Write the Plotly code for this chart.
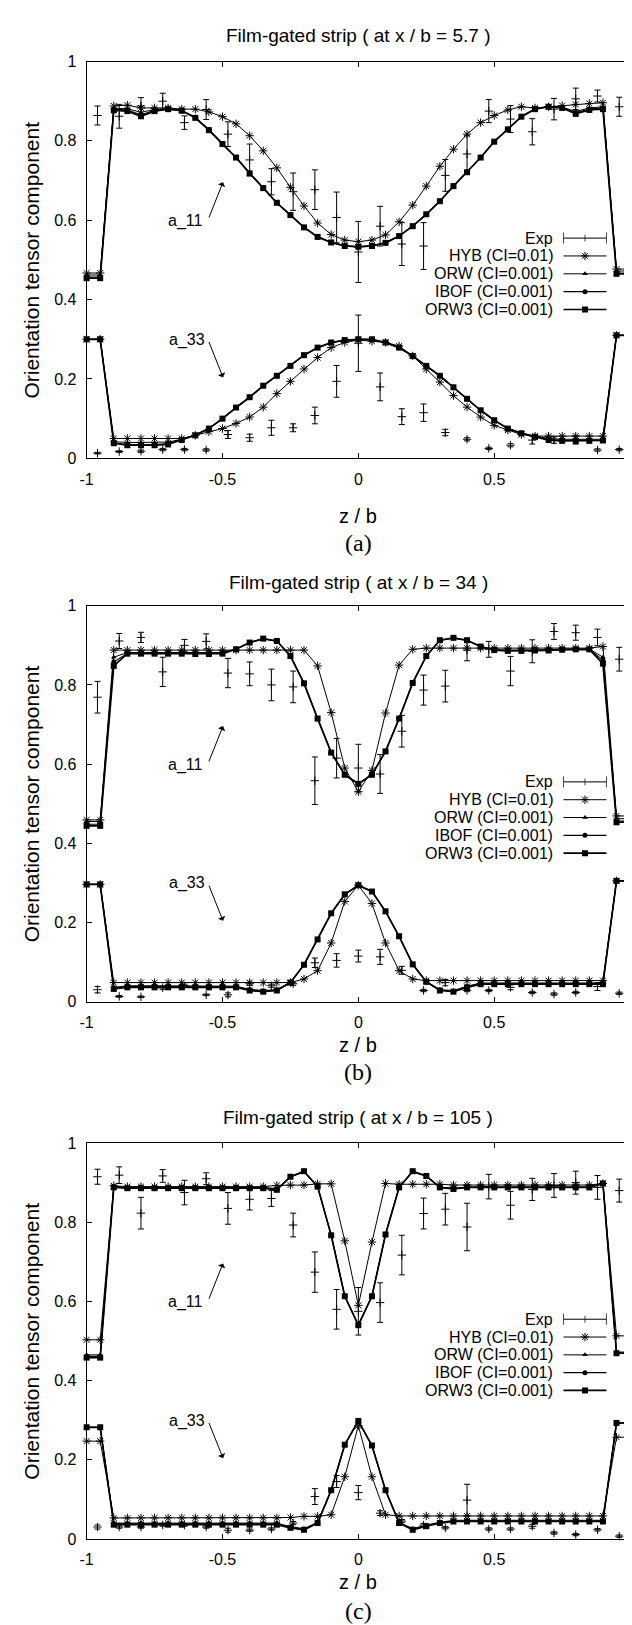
import plotly.graph_objects as go

# ---------------- data ----------------
Z_SIM = [-1.0, -0.95, -0.9, -0.85, -0.8, -0.75, -0.7, -0.65, -0.6, -0.55, -0.5, -0.45, -0.4, -0.35,
         -0.3, -0.25, -0.2, -0.15, -0.1, -0.05, 0.0, 0.05, 0.1, 0.15, 0.2, 0.25, 0.3, 0.35, 0.4, 0.45,
         0.5, 0.55, 0.6, 0.65, 0.7, 0.75, 0.8, 0.85, 0.9, 0.95, 1.0]
Z_EXP = [-0.96, -0.88, -0.8, -0.72, -0.64, -0.56, -0.48, -0.4, -0.32, -0.24, -0.16, -0.08, 0.0,
         0.08, 0.16, 0.24, 0.32, 0.4, 0.48, 0.56, 0.64, 0.72, 0.8, 0.88, 0.96]

# ---- panel (a): x/b = 5.7 ----
A_HYB_11 = [0.467, 0.467, 0.888, 0.890, 0.883, 0.883, 0.883, 0.880, 0.880, 0.873, 0.861, 0.843, 0.813, 0.775, 0.732, 0.683, 0.636, 0.593, 0.564, 0.550, 0.546, 0.550, 0.563, 0.596, 0.638, 0.686, 0.736, 0.779, 0.817, 0.846, 0.864, 0.878, 0.886, 0.883, 0.886, 0.889, 0.892, 0.894, 0.896, 0.477, 0.477]
A_ORW_11 = [0.462, 0.462, 0.882, 0.881, 0.872, 0.879, 0.881, 0.877, 0.860, 0.829, 0.794, 0.759, 0.720, 0.682, 0.645, 0.614, 0.583, 0.559, 0.545, 0.536, 0.534, 0.536, 0.544, 0.561, 0.586, 0.616, 0.649, 0.687, 0.722, 0.759, 0.799, 0.830, 0.862, 0.881, 0.887, 0.885, 0.874, 0.883, 0.886, 0.472, 0.472]
A_IBOF_11 = [0.457, 0.457, 0.880, 0.878, 0.866, 0.877, 0.880, 0.876, 0.859, 0.828, 0.793, 0.758, 0.719, 0.681, 0.644, 0.613, 0.582, 0.558, 0.544, 0.535, 0.533, 0.535, 0.543, 0.560, 0.585, 0.615, 0.648, 0.686, 0.721, 0.758, 0.798, 0.829, 0.861, 0.880, 0.886, 0.884, 0.871, 0.880, 0.883, 0.467, 0.467]
A_ORW3_11 = [0.454, 0.454, 0.877, 0.875, 0.862, 0.875, 0.880, 0.876, 0.858, 0.827, 0.792, 0.758, 0.718, 0.681, 0.644, 0.613, 0.582, 0.558, 0.544, 0.535, 0.533, 0.535, 0.543, 0.560, 0.585, 0.615, 0.648, 0.686, 0.721, 0.758, 0.798, 0.829, 0.861, 0.880, 0.886, 0.883, 0.868, 0.878, 0.880, 0.465, 0.465]
A_HYB_33 = [0.300, 0.300, 0.050, 0.050, 0.050, 0.050, 0.050, 0.050, 0.058, 0.067, 0.075, 0.088, 0.104, 0.129, 0.163, 0.194, 0.225, 0.254, 0.279, 0.292, 0.298, 0.295, 0.292, 0.283, 0.258, 0.225, 0.192, 0.158, 0.129, 0.104, 0.083, 0.071, 0.060, 0.056, 0.056, 0.056, 0.056, 0.056, 0.056, 0.310, 0.310]
A_ORW_33 = [0.300, 0.300, 0.042, 0.040, 0.040, 0.040, 0.041, 0.048, 0.059, 0.076, 0.100, 0.127, 0.153, 0.182, 0.207, 0.232, 0.259, 0.278, 0.291, 0.297, 0.299, 0.299, 0.291, 0.278, 0.257, 0.232, 0.207, 0.178, 0.149, 0.120, 0.096, 0.076, 0.064, 0.056, 0.050, 0.048, 0.048, 0.048, 0.048, 0.310, 0.310]
A_IBOF_33 = [0.300, 0.300, 0.039, 0.035, 0.035, 0.035, 0.037, 0.047, 0.058, 0.075, 0.100, 0.128, 0.154, 0.183, 0.208, 0.233, 0.260, 0.279, 0.292, 0.298, 0.300, 0.300, 0.292, 0.279, 0.258, 0.233, 0.208, 0.179, 0.150, 0.121, 0.096, 0.075, 0.063, 0.055, 0.047, 0.045, 0.045, 0.045, 0.046, 0.310, 0.310]
A_ORW3_33 = [0.300, 0.300, 0.038, 0.033, 0.033, 0.033, 0.035, 0.046, 0.058, 0.075, 0.100, 0.128, 0.154, 0.183, 0.208, 0.233, 0.260, 0.279, 0.292, 0.298, 0.300, 0.300, 0.292, 0.279, 0.258, 0.233, 0.208, 0.179, 0.150, 0.121, 0.096, 0.075, 0.063, 0.054, 0.046, 0.044, 0.044, 0.044, 0.045, 0.310, 0.310]
A_EXP_11 = [0.864, 0.862, 0.888, 0.900, 0.846, 0.879, 0.817, 0.752, 0.697, 0.672, 0.677, 0.607, 0.520, 0.585, 0.540, 0.535, 0.713, 0.767, 0.875, 0.855, 0.823, 0.880, 0.906, 0.913, 0.886]
A_ERR_11 = [0.024, 0.030, 0.021, 0.020, 0.017, 0.025, 0.031, 0.040, 0.033, 0.047, 0.050, 0.064, 0.077, 0.050, 0.054, 0.059, 0.040, 0.046, 0.029, 0.034, 0.033, 0.027, 0.027, 0.015, 0.024]
A_EXP_33 = [0.013, 0.017, 0.018, 0.022, 0.022, 0.021, 0.060, 0.052, 0.077, 0.077, 0.108, 0.194, 0.290, 0.180, 0.105, 0.115, 0.065, 0.048, 0.025, 0.033, 0.046, 0.046, 0.046, 0.021, 0.022]
A_ERR_33 = [0.002, 0.002, 0.003, 0.003, 0.003, 0.003, 0.010, 0.009, 0.019, 0.010, 0.021, 0.040, 0.071, 0.035, 0.020, 0.022, 0.008, 0.004, 0.003, 0.004, 0.010, 0.008, 0.010, 0.003, 0.003]

# ---- panel (b): x/b = 34 ----
B_HYB_11 = [0.459, 0.459, 0.888, 0.888, 0.888, 0.888, 0.888, 0.888, 0.888, 0.888, 0.888, 0.888, 0.888, 0.888, 0.888, 0.888, 0.888, 0.848, 0.730, 0.590, 0.530, 0.584, 0.729, 0.850, 0.890, 0.893, 0.893, 0.893, 0.893, 0.893, 0.893, 0.893, 0.893, 0.893, 0.893, 0.893, 0.893, 0.893, 0.897, 0.469, 0.469]
B_ORW_11 = [0.455, 0.455, 0.870, 0.882, 0.882, 0.882, 0.882, 0.882, 0.881, 0.881, 0.882, 0.891, 0.907, 0.916, 0.910, 0.873, 0.805, 0.716, 0.630, 0.574, 0.551, 0.574, 0.633, 0.716, 0.806, 0.873, 0.912, 0.918, 0.912, 0.897, 0.889, 0.888, 0.888, 0.889, 0.889, 0.890, 0.891, 0.891, 0.870, 0.462, 0.462]
B_IBOF_11 = [0.448, 0.448, 0.858, 0.880, 0.880, 0.880, 0.880, 0.880, 0.879, 0.879, 0.880, 0.890, 0.907, 0.917, 0.911, 0.873, 0.804, 0.715, 0.629, 0.573, 0.550, 0.573, 0.632, 0.715, 0.805, 0.873, 0.913, 0.919, 0.913, 0.897, 0.888, 0.887, 0.887, 0.888, 0.888, 0.889, 0.890, 0.890, 0.862, 0.456, 0.456]
B_ORW3_11 = [0.444, 0.444, 0.848, 0.879, 0.879, 0.879, 0.879, 0.879, 0.878, 0.878, 0.879, 0.890, 0.907, 0.917, 0.911, 0.873, 0.804, 0.715, 0.629, 0.573, 0.550, 0.573, 0.632, 0.715, 0.805, 0.873, 0.913, 0.919, 0.913, 0.897, 0.888, 0.886, 0.886, 0.887, 0.887, 0.889, 0.890, 0.890, 0.854, 0.453, 0.453]
B_HYB_33 = [0.296, 0.296, 0.048, 0.048, 0.048, 0.048, 0.048, 0.048, 0.048, 0.048, 0.048, 0.048, 0.048, 0.048, 0.048, 0.048, 0.057, 0.078, 0.148, 0.253, 0.294, 0.248, 0.148, 0.078, 0.057, 0.053, 0.053, 0.053, 0.053, 0.053, 0.053, 0.053, 0.053, 0.053, 0.053, 0.053, 0.053, 0.053, 0.053, 0.305, 0.305]
B_ORW_33 = [0.296, 0.296, 0.036, 0.040, 0.040, 0.040, 0.040, 0.040, 0.040, 0.040, 0.040, 0.039, 0.031, 0.028, 0.030, 0.049, 0.093, 0.157, 0.222, 0.270, 0.293, 0.277, 0.227, 0.164, 0.094, 0.051, 0.030, 0.028, 0.039, 0.047, 0.047, 0.047, 0.047, 0.047, 0.047, 0.047, 0.047, 0.047, 0.047, 0.305, 0.305]
B_IBOF_33 = [0.296, 0.296, 0.034, 0.038, 0.038, 0.038, 0.038, 0.038, 0.038, 0.038, 0.038, 0.037, 0.029, 0.026, 0.029, 0.048, 0.093, 0.157, 0.223, 0.271, 0.294, 0.278, 0.228, 0.165, 0.094, 0.050, 0.029, 0.026, 0.037, 0.045, 0.045, 0.045, 0.045, 0.045, 0.045, 0.045, 0.045, 0.045, 0.045, 0.305, 0.305]
B_ORW3_33 = [0.296, 0.296, 0.032, 0.036, 0.036, 0.036, 0.036, 0.036, 0.036, 0.036, 0.036, 0.036, 0.028, 0.025, 0.028, 0.048, 0.093, 0.157, 0.223, 0.271, 0.294, 0.278, 0.228, 0.165, 0.094, 0.050, 0.028, 0.025, 0.036, 0.044, 0.044, 0.044, 0.044, 0.044, 0.044, 0.044, 0.044, 0.044, 0.044, 0.305, 0.305]
B_EXP_11 = [0.769, 0.911, 0.920, 0.833, 0.900, 0.910, 0.830, 0.828, 0.800, 0.795, 0.558, 0.615, 0.590, 0.575, 0.683, 0.787, 0.797, 0.888, 0.890, 0.835, 0.885, 0.935, 0.932, 0.920, 0.865]
B_ERR_11 = [0.040, 0.019, 0.013, 0.037, 0.015, 0.019, 0.037, 0.030, 0.040, 0.040, 0.060, 0.050, 0.060, 0.049, 0.040, 0.038, 0.040, 0.027, 0.020, 0.037, 0.029, 0.020, 0.019, 0.021, 0.030]
B_EXP_33 = [0.030, 0.013, 0.012, 0.035, 0.040, 0.017, 0.017, 0.045, 0.040, 0.045, 0.098, 0.104, 0.115, 0.113, 0.079, 0.028, 0.048, 0.028, 0.028, 0.036, 0.023, 0.019, 0.023, 0.038, 0.021]
B_ERR_33 = [0.008, 0.002, 0.002, 0.004, 0.004, 0.002, 0.005, 0.004, 0.004, 0.004, 0.012, 0.017, 0.015, 0.019, 0.010, 0.003, 0.008, 0.003, 0.003, 0.006, 0.003, 0.003, 0.003, 0.010, 0.003]

# ---- panel (c): x/b = 105 ----
C_HYB_11 = [0.503, 0.503, 0.892, 0.890, 0.890, 0.890, 0.890, 0.890, 0.890, 0.890, 0.890, 0.890, 0.890, 0.890, 0.893, 0.894, 0.894, 0.897, 0.897, 0.753, 0.590, 0.750, 0.898, 0.896, 0.896, 0.896, 0.896, 0.894, 0.894, 0.894, 0.894, 0.894, 0.894, 0.894, 0.894, 0.894, 0.894, 0.894, 0.898, 0.513, 0.513]
C_ORW_11 = [0.465, 0.465, 0.890, 0.888, 0.888, 0.888, 0.888, 0.888, 0.888, 0.888, 0.888, 0.888, 0.888, 0.888, 0.885, 0.914, 0.927, 0.890, 0.768, 0.614, 0.541, 0.614, 0.770, 0.889, 0.927, 0.916, 0.889, 0.886, 0.889, 0.889, 0.889, 0.889, 0.889, 0.889, 0.889, 0.889, 0.889, 0.889, 0.898, 0.472, 0.472]
C_IBOF_11 = [0.461, 0.461, 0.889, 0.887, 0.887, 0.887, 0.887, 0.887, 0.887, 0.887, 0.887, 0.887, 0.887, 0.887, 0.883, 0.915, 0.928, 0.890, 0.767, 0.613, 0.540, 0.613, 0.769, 0.888, 0.928, 0.917, 0.888, 0.885, 0.888, 0.888, 0.888, 0.888, 0.888, 0.888, 0.888, 0.888, 0.888, 0.888, 0.898, 0.470, 0.470]
C_ORW3_11 = [0.458, 0.458, 0.888, 0.886, 0.886, 0.886, 0.886, 0.886, 0.886, 0.886, 0.886, 0.886, 0.886, 0.886, 0.882, 0.915, 0.929, 0.890, 0.767, 0.613, 0.540, 0.613, 0.769, 0.888, 0.929, 0.917, 0.888, 0.884, 0.888, 0.888, 0.888, 0.888, 0.888, 0.888, 0.888, 0.888, 0.888, 0.888, 0.898, 0.469, 0.469]
C_HYB_33 = [0.247, 0.247, 0.053, 0.053, 0.053, 0.053, 0.053, 0.053, 0.053, 0.053, 0.053, 0.053, 0.053, 0.053, 0.053, 0.054, 0.057, 0.057, 0.061, 0.157, 0.286, 0.157, 0.061, 0.058, 0.058, 0.058, 0.058, 0.058, 0.058, 0.058, 0.058, 0.058, 0.058, 0.058, 0.058, 0.058, 0.058, 0.058, 0.058, 0.257, 0.257]
C_ORW_33 = [0.282, 0.282, 0.040, 0.040, 0.040, 0.040, 0.040, 0.040, 0.040, 0.040, 0.040, 0.040, 0.040, 0.040, 0.040, 0.031, 0.026, 0.042, 0.123, 0.237, 0.297, 0.235, 0.123, 0.042, 0.026, 0.035, 0.042, 0.047, 0.047, 0.047, 0.047, 0.047, 0.047, 0.047, 0.047, 0.047, 0.047, 0.047, 0.047, 0.293, 0.293]
C_IBOF_33 = [0.282, 0.282, 0.038, 0.038, 0.038, 0.038, 0.038, 0.038, 0.038, 0.038, 0.038, 0.038, 0.038, 0.038, 0.038, 0.029, 0.024, 0.041, 0.123, 0.238, 0.298, 0.236, 0.123, 0.041, 0.024, 0.033, 0.041, 0.045, 0.045, 0.045, 0.045, 0.045, 0.045, 0.045, 0.045, 0.045, 0.045, 0.045, 0.045, 0.293, 0.293]
C_ORW3_33 = [0.282, 0.282, 0.036, 0.036, 0.036, 0.036, 0.036, 0.036, 0.036, 0.036, 0.036, 0.036, 0.036, 0.036, 0.036, 0.028, 0.023, 0.040, 0.123, 0.238, 0.298, 0.236, 0.123, 0.040, 0.023, 0.032, 0.040, 0.044, 0.044, 0.044, 0.044, 0.044, 0.044, 0.044, 0.044, 0.044, 0.044, 0.044, 0.044, 0.293, 0.293]
C_EXP_11 = [0.915, 0.919, 0.823, 0.917, 0.875, 0.910, 0.835, 0.858, 0.860, 0.793, 0.674, 0.580, 0.575, 0.597, 0.717, 0.822, 0.833, 0.788, 0.890, 0.843, 0.883, 0.893, 0.900, 0.888, 0.880]
C_ERR_11 = [0.019, 0.021, 0.040, 0.016, 0.031, 0.015, 0.040, 0.027, 0.020, 0.030, 0.051, 0.050, 0.060, 0.050, 0.050, 0.039, 0.040, 0.060, 0.031, 0.035, 0.028, 0.030, 0.029, 0.030, 0.029]
C_EXP_33 = [0.030, 0.030, 0.030, 0.035, 0.035, 0.030, 0.022, 0.022, 0.025, 0.040, 0.107, 0.145, 0.117, 0.065, 0.045, 0.035, 0.028, 0.098, 0.025, 0.025, 0.032, 0.015, 0.011, 0.023, 0.007]
C_ERR_33 = [0.005, 0.003, 0.003, 0.003, 0.003, 0.003, 0.005, 0.003, 0.003, 0.004, 0.020, 0.015, 0.018, 0.006, 0.004, 0.004, 0.003, 0.040, 0.003, 0.003, 0.005, 0.003, 0.003, 0.003, 0.003]

TITLES = ["Film-gated strip ( at x / b = 5.7 )", "Film-gated strip ( at x / b = 34 )",
          "Film-gated strip ( at x / b = 105 )"]
TAGS = ["(a)", "(b)", "(c)"]
LEGEND_LABELS = ["Exp", "HYB (CI=0.01)", "ORW (CI=0.001)", "IBOF (CI=0.001)", "ORW3 (CI=0.001)"]
X_TICKS = [-1, -0.5, 0, 0.5, 1]
X_TICKTEXT = ["-1", "-0.5", "0", "0.5", "1"]
Y_TICKS = [0, 0.2, 0.4, 0.6, 0.8, 1]
Y_TICKTEXT = ["0", "0.2", "0.4", "0.6", "0.8", "1"]

PANELS = [
    dict(hyb=(A_HYB_11, A_HYB_33), orw=(A_ORW_11, A_ORW_33), ibof=(A_IBOF_11, A_IBOF_33),
         orw3=(A_ORW3_11, A_ORW3_33), exp=(A_EXP_11, A_EXP_33), err=(A_ERR_11, A_ERR_33)),
    dict(hyb=(B_HYB_11, B_HYB_33), orw=(B_ORW_11, B_ORW_33), ibof=(B_IBOF_11, B_IBOF_33),
         orw3=(B_ORW3_11, B_ORW3_33), exp=(B_EXP_11, B_EXP_33), err=(B_ERR_11, B_ERR_33)),
    dict(hyb=(C_HYB_11, C_HYB_33), orw=(C_ORW_11, C_ORW_33), ibof=(C_IBOF_11, C_IBOF_33),
         orw3=(C_ORW3_11, C_ORW3_33), exp=(C_EXP_11, C_EXP_33), err=(C_ERR_11, C_ERR_33)),
]

# ---------------- layout constants (pixels) ----------------
W, H = 632, 1625
LEFT, RIGHT = 73, 627
FRAMES = [(46, 447), (596, 996), (1139, 1539)]
TITLE_Y = [20, 572, 1113]
XLAB_Y = [505, 1040, 1583]
TAG_Y = [533, 1067, 1612]

SANS = "Liberation Sans, Arial, Helvetica, sans-serif"
SERIF = "Liberation Serif, Times New Roman, serif"
BLACK = "black"


def pyp(p):
    return 1 - p / H


def pxp(p):
    return p / W


STYLES = {
    "hyb": dict(line=dict(color=BLACK, width=1),
                marker=dict(symbol="asterisk-open", size=7, color=BLACK, line=dict(color=BLACK, width=1))),
    "orw": dict(line=dict(color=BLACK, width=1),
                marker=dict(symbol="triangle-up", size=5, color=BLACK, line=dict(width=0))),
    "ibof": dict(line=dict(color=BLACK, width=1.1),
                 marker=dict(symbol="circle", size=5, color=BLACK, line=dict(width=0))),
    "orw3": dict(line=dict(color=BLACK, width=1.7),
                 marker=dict(symbol="square", size=6, color=BLACK, line=dict(width=0))),
}

fig = go.Figure()
annotations = []
layout_axes = {}

LEG_Y = [0.555, 0.510, 0.465, 0.420, 0.375]
LEG_X = [0.755, 0.834, 0.913]
LEG_TEXT_X = 0.725

for k, P in enumerate(PANELS):
    sx = "" if k == 0 else str(k + 1)
    xa, ya = "x" + sx, "y" + sx
    top, bot = FRAMES[k]
    for c in range(2):
        for key in ("hyb", "orw", "ibof", "orw3"):
            st = STYLES[key]
            fig.add_trace(go.Scatter(x=Z_SIM, y=P[key][c], mode="lines+markers", xaxis=xa, yaxis=ya,
                                     line=st["line"], marker=st["marker"], showlegend=False,
                                     cliponaxis=False, hoverinfo="skip"))
        fig.add_trace(go.Scatter(x=Z_EXP, y=P["exp"][c], mode="markers", xaxis=xa, yaxis=ya,
                                 marker=dict(symbol="cross-thin-open", size=6, color=BLACK,
                                             line=dict(color=BLACK, width=1)),
                                 error_y=dict(type="data", array=P["err"][c], color=BLACK,
                                              thickness=1, width=3),
                                 showlegend=False, cliponaxis=False, hoverinfo="skip"))
    # legend key (gnuplot style: label then sample)
    for i, lab in enumerate(LEGEND_LABELS):
        yv = LEG_Y[i]
        annotations.append(dict(x=LEG_TEXT_X, y=yv, xref=xa, yref=ya, text=lab, showarrow=False,
                                xanchor="right", yanchor="middle",
                                font=dict(family=SANS, size=16, color=BLACK)))
        if i == 0:
            fig.add_trace(go.Scatter(x=LEG_X, y=[yv] * 3, mode="lines+markers", xaxis=xa, yaxis=ya,
                                     line=dict(color=BLACK, width=1),
                                     marker=dict(symbol="line-ns-open", size=[8, 5, 8], color=BLACK,
                                                 line=dict(color=BLACK, width=1)),
                                     showlegend=False, hoverinfo="skip"))
        else:
            key = ["hyb", "orw", "ibof", "orw3"][i - 1]
            st = STYLES[key]
            fig.add_trace(go.Scatter(x=[LEG_X[0], LEG_X[2]], y=[yv, yv], mode="lines", xaxis=xa,
                                     yaxis=ya, line=st["line"], showlegend=False, hoverinfo="skip"))
            fig.add_trace(go.Scatter(x=[LEG_X[1]], y=[yv], mode="markers", xaxis=xa, yaxis=ya,
                                     marker=st["marker"], showlegend=False, hoverinfo="skip"))

    axis_common = dict(showline=True, linecolor=BLACK, linewidth=1, mirror="ticks", ticks="inside",
                       ticklen=5, tickwidth=1, tickcolor=BLACK, showgrid=False, zeroline=False,
                       tickfont=dict(family=SANS, size=16, color=BLACK), ticklabelstandoff=6,
                       fixedrange=True)
    layout_axes["xaxis" + sx] = dict(axis_common, domain=[pxp(LEFT), pxp(RIGHT)], range=[-1, 1],
                                     tickvals=X_TICKS, ticktext=X_TICKTEXT, anchor=ya)
    layout_axes["yaxis" + sx] = dict(axis_common, domain=[pyp(bot), pyp(top)], range=[0, 1],
                                     tickvals=Y_TICKS, ticktext=Y_TICKTEXT, anchor=xa)

    cx = pxp((LEFT + RIGHT) / 2)
    annotations.append(dict(x=cx, y=pyp(TITLE_Y[k]), xref="paper", yref="paper", text=TITLES[k],
                            showarrow=False, xanchor="center", yanchor="middle",
                            font=dict(family=SANS, size=19, color=BLACK)))
    annotations.append(dict(x=cx, y=pyp(XLAB_Y[k]), xref="paper", yref="paper", text="z / b",
                            showarrow=False, xanchor="center", yanchor="middle",
                            font=dict(family=SANS, size=20, color=BLACK)))
    annotations.append(dict(x=cx, y=pyp(TAG_Y[k]), xref="paper", yref="paper", text=TAGS[k],
                            showarrow=False, xanchor="center", yanchor="middle",
                            font=dict(family=SERIF, size=24, color=BLACK)))
    annotations.append(dict(x=pxp(17), y=pyp((top + bot) / 2), xref="paper", yref="paper",
                            text="Orientation tensor component", textangle=-90, showarrow=False,
                            xanchor="center", yanchor="middle",
                            font=dict(family=SANS, size=21, color=BLACK)))
    # component labels with arrows
    annotations.append(dict(x=-0.635, y=0.598, xref=xa, yref=ya, text="a_11", showarrow=False,
                            font=dict(family=SANS, size=16, color=BLACK)))
    annotations.append(dict(x=-0.498, y=0.696, xref=xa, yref=ya, ax=-0.552, ay=0.603, axref=xa,
                            ayref=ya, text="", showarrow=True, arrowhead=1, arrowsize=1.3,
                            arrowwidth=1, arrowcolor=BLACK, standoff=0, startstandoff=0))
    annotations.append(dict(x=-0.632, y=0.299, xref=xa, yref=ya, text="a_33", showarrow=False,
                            font=dict(family=SANS, size=16, color=BLACK)))
    annotations.append(dict(x=-0.498, y=0.204, xref=xa, yref=ya, ax=-0.552, ay=0.297, axref=xa,
                            ayref=ya, text="", showarrow=True, arrowhead=1, arrowsize=1.3,
                            arrowwidth=1, arrowcolor=BLACK, standoff=0, startstandoff=0))

fig.update_layout(width=W, height=H, margin=dict(l=0, r=0, t=0, b=0), paper_bgcolor="white",
                  plot_bgcolor="white", showlegend=False, annotations=annotations, **layout_axes)

fig.write_html("out.html")
